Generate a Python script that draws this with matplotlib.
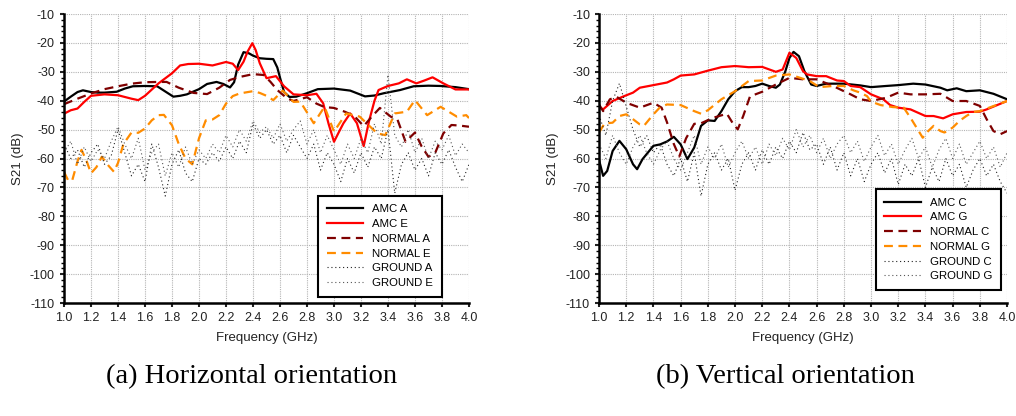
import matplotlib
matplotlib.use('Agg')
import matplotlib.pyplot as plt
from matplotlib.ticker import MultipleLocator

plt.rcParams['font.family'] = ['Liberation Sans', 'DejaVu Sans']
plt.rcParams['axes.unicode_minus'] = False

# ---- (a) horizontal orientation ----
amc_a = [(1.0,-40.3),(1.05,-38.6),(1.1,-37.0),(1.14,-36.4),(1.2,-37.0),(1.25,-37.2),(1.3,-37.2),(1.39,-36.9),
         (1.45,-35.8),(1.51,-35.0),(1.6,-34.9),(1.69,-35.0),(1.75,-36.8),(1.81,-38.6),(1.86,-38.3),(1.91,-37.8),
         (2.0,-36.0),(2.06,-34.2),(2.13,-33.5),(2.18,-34.2),(2.23,-35.4),(2.26,-33.6),(2.29,-27.5),(2.33,-23.2),
         (2.37,-23.6),(2.4,-24.4),(2.45,-25.3),(2.5,-25.5),(2.55,-25.6),(2.58,-28.5),(2.6,-32.0),(2.63,-37.0),
         (2.67,-38.7),(2.72,-38.6),(2.8,-37.4),(2.88,-36.0),(3.0,-35.8),(3.12,-36.5),(3.23,-38.5),(3.3,-38.2),
         (3.37,-37.4),(3.49,-36.3),(3.59,-35.0),(3.7,-34.8),(3.79,-34.9),(3.9,-35.3),(4.0,-36.0)]
amc_e = [(1.0,-44.5),(1.05,-43.3),(1.1,-42.7),(1.15,-40.4),(1.2,-38.3),(1.3,-37.8),(1.4,-38.1),(1.5,-39.3),
         (1.55,-39.8),(1.6,-38.3),(1.7,-34.0),(1.8,-30.5),(1.86,-27.8),(1.92,-27.3),(2.0,-27.2),(2.1,-27.8),
         (2.2,-26.6),(2.25,-27.2),(2.29,-29.4),(2.33,-26.5),(2.36,-23.0),(2.395,-20.1),(2.42,-22.5),(2.45,-27.0),
         (2.5,-32.2),(2.57,-31.5),(2.63,-35.0),(2.7,-37.8),(2.8,-38.1),(2.87,-37.6),(2.92,-40.9),(2.96,-48.0),
         (3.0,-54.2),(3.04,-50.5),(3.07,-47.8),(3.12,-44.4),(3.17,-47.8),(3.22,-55.7),(3.26,-47.0),(3.3,-40.0),
         (3.33,-36.3),(3.4,-34.9),(3.48,-34.0),(3.54,-32.6),(3.61,-34.0),(3.67,-33.0),(3.73,-31.9),(3.81,-34.0),
         (3.9,-36.1),(4.0,-36.1)]
normal_a = [(1.0,-41.2),(1.1,-39.3),(1.2,-37.5),(1.3,-36.0),(1.4,-35.0),(1.5,-34.1),(1.6,-33.6),(1.7,-33.5),
            (1.76,-33.5),(1.85,-35.5),(1.96,-37.3),(2.06,-37.7),(2.15,-35.5),(2.23,-32.8),(2.3,-31.8),(2.4,-30.8),
            (2.48,-31.1),(2.53,-33.5),(2.58,-36.3),(2.65,-39.1),(2.7,-40.1),(2.8,-38.8),(2.87,-41.0),(2.93,-42.2),
            (3.0,-42.5),(3.08,-43.8),(3.15,-45.3),(3.22,-48.8),(3.28,-45.5),(3.34,-42.5),(3.42,-45.5),(3.47,-46.5),
            (3.53,-54.2),(3.6,-51.0),(3.65,-55.9),(3.7,-59.4),(3.75,-58.0),(3.81,-51.3),(3.87,-48.4),(3.93,-48.6),
            (4.0,-49.0)]
normal_e = [(1.0,-64.6),(1.03,-67.5),(1.06,-67.7),(1.1,-61.0),(1.13,-57.0),(1.17,-61.2),(1.2,-65.1),(1.24,-63.0),
            (1.28,-59.4),(1.33,-62.5),(1.37,-64.6),(1.4,-61.5),(1.44,-55.0),(1.5,-51.0),(1.55,-51.1),(1.6,-49.6),
            (1.65,-46.8),(1.7,-45.0),(1.74,-44.9),(1.8,-48.5),(1.85,-55.0),(1.9,-60.0),(1.95,-62.0),(2.0,-53.0),
            (2.05,-46.8),(2.1,-46.5),(2.15,-45.0),(2.2,-41.0),(2.25,-38.4),(2.3,-37.5),(2.4,-36.7),(2.45,-37.3),
            (2.5,-38.3),(2.55,-39.8),(2.62,-36.5),(2.7,-40.4),(2.75,-40.3),(2.85,-47.8),(2.93,-42.1),(3.0,-50.7),
            (3.09,-44.4),(3.19,-45.5),(3.32,-51.3),(3.38,-51.9),(3.45,-44.4),(3.54,-43.8),(3.6,-39.8),(3.69,-45.0),
            (3.79,-42.1),(3.91,-45.5),(3.98,-45.0),(4.0,-46.0)]
ground_f = [1.0 + 0.05 * i for i in range(61)]
ground_a = [-55,-60,-57,-63,-58,-55,-62,-59,-50,-58,-66,-62,-68,-55,-63,-73,-62,-57,-65,-68,
            -60,-62,-58,-61,-56,-60,-54,-58,-48,-53,-50,-55,-52,-58,-52,-56,-60,-55,-64,-58,
            -62,-68,-60,-65,-58,-63,-56,-60,-50,-72,-62,-58,-64,-60,-66,-58,-62,-57,-63,-68,-62]
ground_e = [-58,-54,-62,-56,-61,-57,-60,-54,-49,-55,-60,-53,-64,-58,-55,-66,-58,-63,-56,-62,
            -57,-60,-55,-58,-52,-56,-50,-54,-47,-51,-49,-53,-48,-54,-50,-47,-55,-50,-58,-52,
            -57,-62,-55,-60,-53,-58,-48,-55,-31,-52,-56,-50,-58,-53,-60,-54,-57,-52,-59,-55,-58]

# ---- (b) vertical orientation ----
amc_c = [(1.0,-60.5),(1.03,-66.0),(1.06,-64.3),(1.1,-57.4),(1.15,-53.9),(1.2,-56.8),(1.25,-62.0),(1.28,-63.7),
         (1.32,-60.2),(1.4,-55.6),(1.45,-55.1),(1.5,-54.1),(1.55,-52.5),(1.6,-55.1),(1.65,-60.2),(1.7,-56.2),
         (1.75,-48.7),(1.8,-46.8),(1.85,-47.0),(1.9,-43.6),(1.95,-39.5),(2.0,-36.7),(2.05,-35.3),(2.1,-35.3),
         (2.15,-34.9),(2.2,-34.1),(2.25,-34.9),(2.3,-35.5),(2.33,-34.4),(2.37,-29.8),(2.4,-25.2),(2.43,-23.1),
         (2.47,-24.6),(2.51,-29.8),(2.56,-34.4),(2.6,-34.9),(2.67,-34.1),(2.8,-34.1),(2.92,-34.7),(3.0,-35.3),
         (3.11,-34.9),(3.2,-34.6),(3.31,-34.1),(3.4,-34.4),(3.51,-35.5),(3.56,-36.4),(3.63,-35.7),(3.7,-36.7),
         (3.8,-36.4),(3.9,-37.6),(4.0,-39.5)]
amc_g = [(1.0,-42.2),(1.03,-43.0),(1.1,-40.1),(1.18,-38.5),(1.25,-37.2),(1.3,-35.5),(1.4,-34.6),(1.5,-33.7),
         (1.55,-32.6),(1.6,-31.3),(1.7,-30.9),(1.8,-29.6),(1.9,-28.4),(2.0,-28.0),(2.1,-28.4),(2.2,-28.3),
         (2.3,-30.0),(2.35,-29.2),(2.4,-23.4),(2.45,-25.2),(2.5,-29.8),(2.53,-30.9),(2.6,-31.5),(2.67,-31.5),
         (2.75,-33.0),(2.8,-33.2),(2.85,-34.9),(2.92,-35.3),(3.0,-37.8),(3.09,-39.5),(3.14,-41.5),(3.2,-42.4),
         (3.29,-43.0),(3.4,-45.3),(3.46,-45.3),(3.53,-46.1),(3.6,-44.7),(3.7,-43.9),(3.8,-43.8),(3.85,-43.0),
         (4.0,-40.1)]
normal_c = [(1.0,-41.3),(1.03,-43.6),(1.08,-39.5),(1.13,-38.7),(1.2,-40.7),(1.3,-42.4),(1.4,-40.7),(1.46,-42.4),
            (1.5,-47.5),(1.55,-55.0),(1.59,-59.3),(1.64,-53.0),(1.7,-48.0),(1.75,-47.8),(1.84,-45.9),(1.94,-44.5),
            (1.99,-48.3),(2.02,-49.9),(2.06,-45.3),(2.11,-38.5),(2.2,-36.9),(2.3,-34.4),(2.4,-32.1),(2.5,-32.6),
            (2.6,-32.6),(2.72,-34.9),(2.8,-36.7),(2.85,-37.8),(2.92,-39.5),(3.0,-40.1),(3.11,-39.0),(3.2,-37.2),
            (3.29,-37.8),(3.4,-37.8),(3.51,-37.6),(3.6,-40.1),(3.7,-40.1),(3.8,-41.8),(3.85,-46.4),(3.9,-50.5),
            (3.95,-51.6),(4.0,-50.5)]
normal_g = [(1.0,-51.0),(1.04,-47.9),(1.1,-47.6),(1.15,-45.3),(1.2,-44.7),(1.25,-46.4),(1.3,-48.2),(1.33,-48.7),
            (1.4,-44.7),(1.45,-42.2),(1.5,-41.3),(1.6,-41.5),(1.7,-43.6),(1.75,-44.5),(1.8,-43.3),(1.9,-39.5),
            (2.0,-36.7),(2.1,-33.2),(2.2,-33.0),(2.3,-31.3),(2.4,-30.9),(2.48,-32.1),(2.55,-33.2),(2.62,-35.3),
            (2.72,-34.9),(2.8,-34.9),(2.87,-36.4),(2.92,-37.2),(2.97,-38.4),(3.0,-40.3),(3.07,-41.5),(3.16,-42.2),
            (3.24,-42.4),(3.29,-45.9),(3.35,-50.5),(3.38,-52.8),(3.42,-50.5),(3.46,-48.7),(3.51,-50.5),(3.54,-51.0),
            (3.6,-49.3),(3.65,-47.0),(3.7,-45.3),(3.75,-43.9),(3.8,-43.6),(3.88,-42.2),(4.0,-40.1)]
ground_c = [-45,-52,-40,-34,-42,-50,-56,-52,-58,-55,-62,-66,-60,-68,-58,-73,-62,-58,-64,-60,
            -71,-62,-58,-64,-57,-62,-56,-60,-54,-58,-51,-57,-55,-62,-56,-64,-58,-66,-60,-68,
            -62,-58,-65,-60,-69,-62,-66,-60,-70,-63,-68,-60,-66,-62,-70,-64,-60,-66,-62,-68,-72]
ground_g = [-55,-60,-52,-58,-62,-56,-52,-58,-62,-57,-54,-60,-64,-58,-52,-62,-56,-60,-55,-63,
            -58,-54,-60,-56,-62,-55,-59,-53,-57,-50,-56,-52,-58,-53,-60,-55,-52,-58,-54,-61,
            -56,-52,-59,-55,-62,-57,-53,-60,-56,-63,-57,-53,-60,-55,-62,-58,-54,-60,-56,-63,-58]

yticks = list(range(-110, 0, 10))
xticks = [1.0 + 0.2 * i for i in range(16)]

BLACK = '#000000'
RED = '#ff0000'
DARKRED = '#7f0000'
ORANGE = '#ff8c00'


def unzip(pts):
    return [p[0] for p in pts], [p[1] for p in pts]


def draw(ax, amc1, amc2, nor1, nor2, gr1, gr2, names):
    x, y = unzip(amc1)
    ax.plot(x, y, color=BLACK, lw=1.6, label=names[0])
    x, y = unzip(amc2)
    ax.plot(x, y, color=RED, lw=1.6, label=names[1])
    x, y = unzip(nor1)
    ax.plot(x, y, color=DARKRED, lw=1.6, dashes=(4, 2.5), label=names[2])
    x, y = unzip(nor2)
    ax.plot(x, y, color=ORANGE, lw=1.6, dashes=(4, 2.5), label=names[3])
    ax.plot(ground_f, gr1, color='#222222', lw=0.8, ls=(0, (1, 2.5)), label=names[4])
    ax.plot(ground_f, gr2, color='#555555', lw=0.8, ls=(0, (1, 2.5)), label=names[5])

    ax.set_xlim(1.0, 4.0)
    ax.set_ylim(-110, -10)
    ax.set_yticks(yticks)
    ax.set_xticks(xticks)
    ax.set_xticklabels(['%.1f' % t for t in xticks])
    ax.yaxis.set_minor_locator(MultipleLocator(2))
    ax.grid(True, color='#b4b4b4', ls=(0, (1, 1)), lw=0.8)
    ax.set_axisbelow(True)
    for s in ['top', 'right']:
        ax.spines[s].set_visible(False)
    for s in ['left', 'bottom']:
        ax.spines[s].set_linewidth(1.8)
    ax.tick_params(axis='both', which='major', labelsize=9, colors='#222222', length=3, width=1.5, direction='out')
    ax.tick_params(axis='y', which='minor', length=2, width=1)
    ax.set_xlabel('Frequency (GHz)', fontsize=9.5, color='#222222', labelpad=6)
    ax.set_ylabel('S21 (dB)', fontsize=9.5, color='#222222', labelpad=4)


fig = plt.figure(figsize=(10.16, 4.16), dpi=100)
ax1 = fig.add_axes([0.063, 0.2716, 0.3986, 0.6947])
ax2 = fig.add_axes([0.5896, 0.2716, 0.4016, 0.6947])

draw(ax1, amc_a, amc_e, normal_a, normal_e, ground_a, ground_e,
     ['AMC A', 'AMC E', 'NORMAL A', 'NORMAL E', 'GROUND A', 'GROUND E'])
draw(ax2, amc_c, amc_g, normal_c, normal_g, ground_c, ground_g,
     ['AMC C', 'AMC G', 'NORMAL C', 'NORMAL G', 'GROUND C', 'GROUND G'])

for ax, anchor in [(ax1, (0.933, 0.022)), (ax2, (0.985, 0.045))]:
    leg = ax.legend(loc='lower right', bbox_to_anchor=anchor, fontsize=8.2, frameon=True, fancybox=False,
                    edgecolor='black', framealpha=1, handlelength=3.2, labelspacing=0.42,
                    borderpad=0.75, handletextpad=0.8, borderaxespad=0)
    leg.get_frame().set_linewidth(1.5)

fig.text(0.248, 0.095, '(a) Horizontal orientation', fontsize=20.5, family='Liberation Serif', ha='center', va='center')
fig.text(0.773, 0.095, '(b) Vertical orientation', fontsize=20.5, family='Liberation Serif', ha='center', va='center')

fig.savefig('out.png', dpi=100)
